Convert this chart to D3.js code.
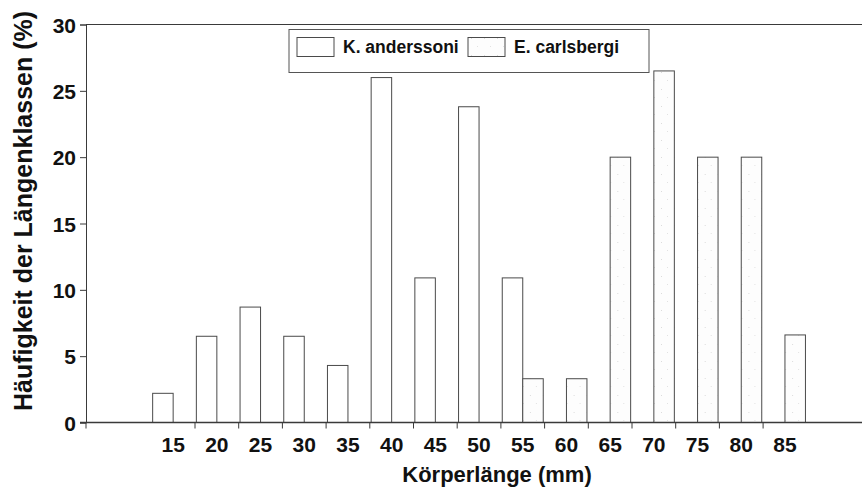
<!DOCTYPE html>
<html>
<head>
<meta charset="utf-8">
<script src="https://cdn.jsdelivr.net/npm/d3@7"></script>
<style>
  html, body { margin: 0; padding: 0; background: #fff; }
  svg { display: block; font-family: "Liberation Sans", Arial, Helvetica, sans-serif; font-weight: bold; }
</style>
</head>
<body>
<svg id="chart" width="862" height="495"></svg>
<script>
// Length classes (mm) and frequency per class (%) for both species
const lengthClasses = ["15", "20", "25", "30", "35", "40", "45", "50", "55", "60", "65", "70", "75", "80", "85"];
const anderssoni = [2.2, 6.5, 8.7, 6.5, 4.3, 26.0, 10.9, 23.8, 10.9, 0, 0, 0, 0, 0, 0];
const carlsbergi = [0, 0, 0, 0, 0, 0, 0, 0, 3.3, 3.3, 20, 26.5, 20, 20, 6.6];
const seriesNames = ["K. anderssoni", "E. carlsbergi"];
const yTicks = [0, 5, 10, 15, 20, 25, 30];

const svg = d3.select("#chart");
const plot = { left: 86, right: 862, top: 24.5, bottom: 422.5 };

// Faint speckled fill for the second species
const defs = svg.append("defs");
const pat = defs.append("pattern")
  .attr("id", "speckle").attr("patternUnits", "userSpaceOnUse")
  .attr("width", 13).attr("height", 17);
pat.append("rect").attr("width", 13).attr("height", 17).attr("fill", "#fdfdfd");
pat.append("rect").attr("x", 3).attr("y", 4).attr("width", 1).attr("height", 1).attr("fill", "#dcdcdc");
pat.append("rect").attr("x", 9).attr("y", 12).attr("width", 1).attr("height", 1).attr("fill", "#e2e2e2");
const fills = ["#ffffff", "url(#speckle)"];

const x0 = d3.scaleBand().domain(lengthClasses).range([151.3, 806.8]).paddingInner(0).paddingOuter(0);
const x1 = d3.scaleBand().domain(seriesNames).range([0, x0.bandwidth()]).paddingInner(0).paddingOuter(0.066);
const y = d3.scaleLinear().domain([0, 30]).range([plot.bottom, plot.top]);

const lineColor = "#3a3a3a";

// Top frame line
svg.append("line").attr("x1", plot.left).attr("x2", plot.right)
  .attr("y1", plot.top).attr("y2", plot.top).attr("stroke", lineColor).attr("stroke-width", 1);

// Bars
const rows = lengthClasses.map((c, i) => ({ cls: c, vals: [anderssoni[i], carlsbergi[i]] }));
const groups = svg.append("g").selectAll("g").data(rows).join("g")
  .attr("transform", d => `translate(${x0(d.cls)},0)`);
groups.selectAll("rect")
  .data(d => d.vals.map((v, j) => ({ v, j })).filter(e => e.v > 0))
  .join("rect")
  .attr("x", e => x1(seriesNames[e.j]))
  .attr("width", x1.bandwidth())
  .attr("y", e => y(e.v))
  .attr("height", e => y(0) - y(e.v))
  .attr("fill", e => fills[e.j])
  .attr("stroke", "#4a4a4a")
  .attr("stroke-width", 1);

// X baseline and tick marks between length classes
svg.append("line").attr("x1", 80).attr("x2", plot.right)
  .attr("y1", plot.bottom).attr("y2", plot.bottom).attr("stroke", lineColor).attr("stroke-width", 1.3);
svg.append("g").selectAll("line").data(lengthClasses.slice(1)).join("line")
  .attr("x1", d => x0(d)).attr("x2", d => x0(d))
  .attr("y1", plot.bottom).attr("y2", plot.bottom + 6)
  .attr("stroke", lineColor).attr("stroke-width", 1);
svg.append("line").attr("x1", plot.left).attr("x2", plot.left)
  .attr("y1", plot.bottom).attr("y2", plot.bottom + 6).attr("stroke", lineColor);

// X tick labels
svg.append("g").selectAll("text").data(lengthClasses).join("text")
  .attr("x", d => x0(d) + x0.bandwidth() / 2)
  .attr("y", 452)
  .attr("text-anchor", "middle")
  .attr("font-size", 21)
  .attr("fill", "#111")
  .text(d => d);

// Y axis
const yAxis = d3.axisLeft(y).tickValues(yTicks).tickSize(6).tickPadding(4).tickFormat(d3.format("d"));
const yg = svg.append("g").attr("transform", `translate(${plot.left},0)`).call(yAxis);
yg.select(".domain").attr("stroke", lineColor).attr("stroke-width", 1);
yg.selectAll(".tick line").attr("stroke", lineColor);
yg.selectAll(".tick text")
  .attr("font-size", 21).attr("font-weight", "bold").attr("fill", "#111")
  .attr("font-family", "'Liberation Sans', Arial, sans-serif")
  .attr("dy", "0.36em");

// Axis titles
svg.append("text")
  .attr("x", 497).attr("y", 482)
  .attr("text-anchor", "middle")
  .attr("font-size", 22)
  .attr("fill", "#111")
  .text("Körperlänge (mm)");
svg.append("text")
  .attr("transform", "translate(32,211) rotate(-90)")
  .attr("text-anchor", "middle")
  .attr("font-size", 25)
  .attr("fill", "#111")
  .text("Häufigkeit der Längenklassen (%)");

// Legend
const lg = svg.append("g");
lg.append("rect").attr("x", 289).attr("y", 29.5).attr("width", 360).attr("height", 43)
  .attr("fill", "#fff").attr("stroke", "#555").attr("stroke-width", 1);
const legendItems = [
  { name: seriesNames[0], sx: 297, tx: 343 },
  { name: seriesNames[1], sx: 468, tx: 514 }
];
legendItems.forEach((it, j) => {
  lg.append("rect").attr("x", it.sx).attr("y", 37.5).attr("width", 37).attr("height", 19)
    .attr("fill", fills[j]).attr("stroke", "#4a4a4a").attr("stroke-width", 1);
  lg.append("text").attr("x", it.tx).attr("y", 53)
    .attr("font-size", 17.5).attr("fill", "#111").text(it.name);
});
</script>
</body>
</html>
